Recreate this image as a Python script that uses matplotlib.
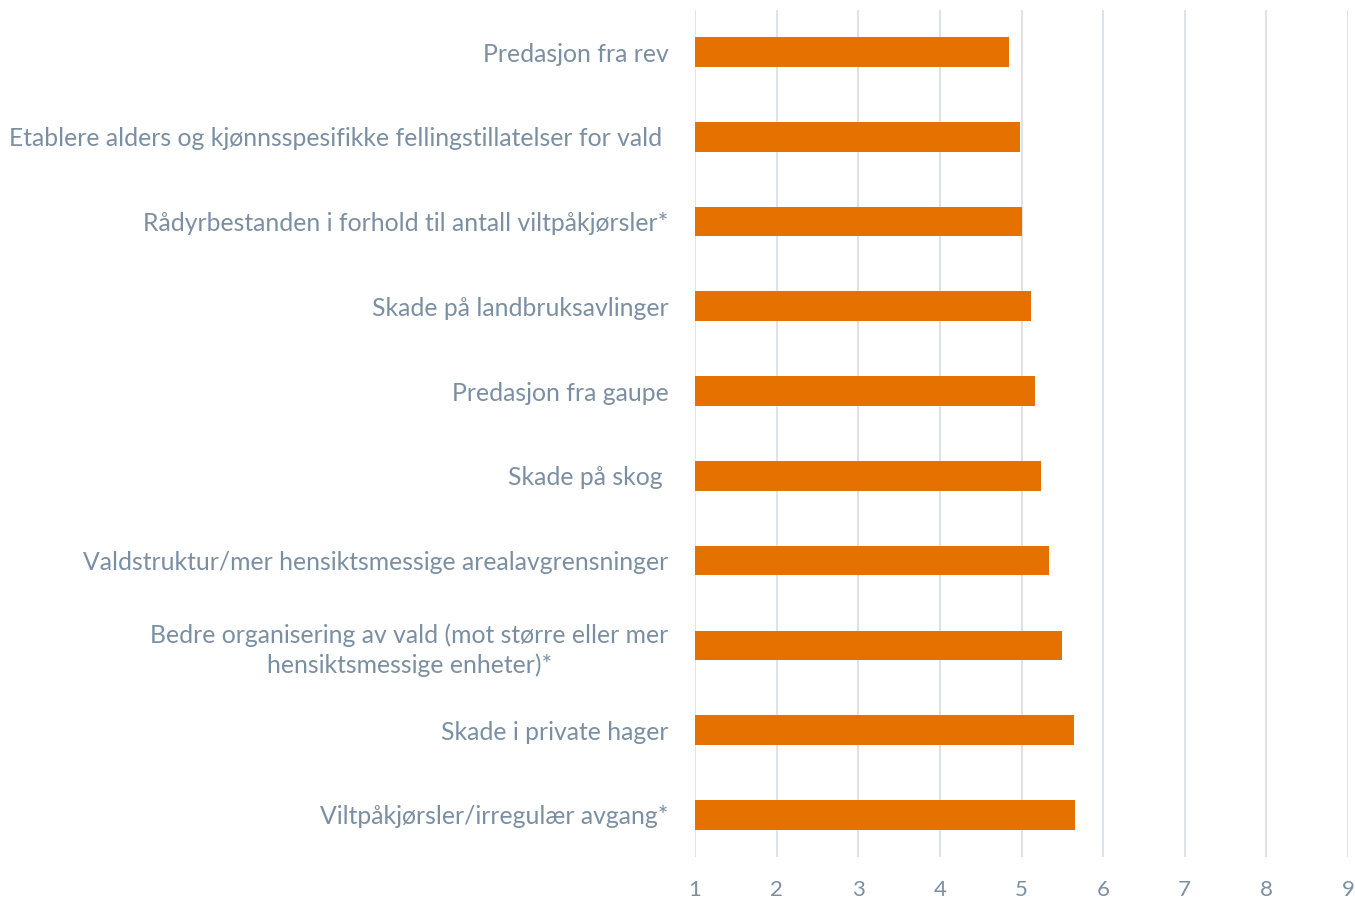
import matplotlib
matplotlib.use("Agg")
import matplotlib.pyplot as plt

# kategorier (nederst -> øverst i figuren)
categories = [
    "Viltpåkjørsler/irregulær avgang*",
    "Skade i private hager",
    "Bedre organisering av vald (mot større eller mer\nhensiktsmessige enheter)*",
    "Valdstruktur/mer hensiktsmessige arealavgrensninger",
    "Skade på skog ",
    "Predasjon fra gaupe",
    "Skade på landbruksavlinger",
    "Rådyrbestanden i forhold til antall viltpåkjørsler*",
    "Etablere alders og kjønnsspesifikke fellingstillatelser for vald ",
    "Predasjon fra rev",
]
values = [5.65, 5.64, 5.49, 5.34, 5.24, 5.17, 5.11, 5.01, 4.98, 4.85]
xticks = [1, 2, 3, 4, 5, 6, 7, 8, 9]

text_color = "#7b8fa3"
bar_color = "#e57200"

plt.rcParams["font.family"] = ["Lato", "DejaVu Sans"]

fig = plt.figure(figsize=(13.55, 8.99), dpi=100)
ax = fig.add_axes([0.513, 0.0463, 0.4818, 0.9430])

y = range(len(categories))
ax.barh(y, [v - 1 for v in values], left=1, height=0.35, color=bar_color, zorder=3)

ax.set_xlim(1, 9)
ax.set_ylim(-0.5, len(categories) - 0.5)
ax.set_xticks(xticks)
ax.set_xticklabels([str(t) for t in xticks])
ax.set_yticks(list(y))
ax.set_yticklabels(categories, multialignment="center", linespacing=1.3)

ax.grid(axis="x", color="#dfe3e8", linewidth=1.5, zorder=0)
ax.set_axisbelow(True)
for s in ax.spines.values():
    s.set_visible(False)

ax.tick_params(axis="y", length=0, pad=19, labelsize=17.8, labelcolor=text_color)
ax.tick_params(axis="x", length=0, pad=16, labelsize=16, labelcolor=text_color)

fig.savefig("out.png", dpi=100)
